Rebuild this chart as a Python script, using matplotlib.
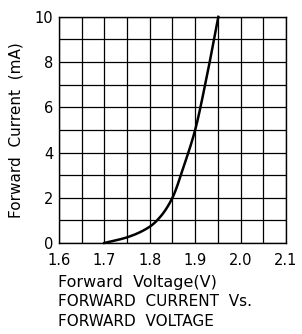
import matplotlib
matplotlib.use("Agg")
import matplotlib.pyplot as plt
import numpy as np

voltage = [1.70, 1.75, 1.80, 1.825, 1.85, 1.875, 1.90, 1.925, 1.951]
current = [0.0, 0.25, 0.72, 1.2, 2.0, 3.4, 5.0, 7.3, 10.0]
xtick_labels = ["1.6", "1.7", "1.8", "1.9", "2.0", "2.1"]
ytick_labels = ["0", "2", "4", "6", "8", "10"]


def pchip(x, y, xn):
    x = np.asarray(x, float); y = np.asarray(y, float)
    h = np.diff(x); d = np.diff(y) / h
    n = len(x)
    m = np.zeros(n)
    for k in range(1, n - 1):
        if d[k - 1] * d[k] <= 0:
            m[k] = 0
        else:
            w1 = 2 * h[k] + h[k - 1]; w2 = h[k] + 2 * h[k - 1]
            m[k] = (w1 + w2) / (w1 / d[k - 1] + w2 / d[k])
    m[0] = d[0]; m[-1] = d[-1]
    out = []
    for xv in xn:
        i = min(max(np.searchsorted(x, xv) - 1, 0), n - 2)
        t = (xv - x[i]) / h[i]
        h00 = 2*t**3 - 3*t**2 + 1; h10 = t**3 - 2*t**2 + t
        h01 = -2*t**3 + 3*t**2; h11 = t**3 - t**2
        out.append(h00*y[i] + h10*h[i]*m[i] + h01*y[i+1] + h11*h[i]*m[i+1])
    return np.array(out)


fig = plt.figure(figsize=(3.02, 3.34), dpi=100)
ax = fig.add_axes([0.195, 0.2725, 0.752, 0.677])
ax.set_xlim(1.6, 2.1)
ax.set_ylim(0, 10)
xt = np.linspace(1.6, 2.1, 11)
yt = np.linspace(0, 10, 11)
ax.set_xticks(xt)
ax.set_yticks(yt)
ax.set_xticklabels([xtick_labels[i // 2] if i % 2 == 0 else "" for i in range(11)])
ax.set_yticklabels([ytick_labels[i // 2] if i % 2 == 0 else "" for i in range(11)])
ax.grid(True, color="black", linewidth=0.9)
ax.tick_params(length=0, labelsize=10.5)
ax.tick_params(axis="x", pad=7)
ax.tick_params(axis="y", pad=4)
for s in ax.spines.values():
    s.set_linewidth(1.0)

xs = np.linspace(voltage[0], voltage[-1], 300)
ax.plot(xs, pchip(voltage, current, xs), color="black", linewidth=1.8, clip_on=False)

ax.set_ylabel("Forward  Current  (mA)", fontsize=11)
ax.yaxis.set_label_coords(-0.155, 0.5)
fig.text(0.192, 1 - 283/334, "Forward  Voltage(V)", fontsize=11.5, va="center", ha="left")
fig.text(0.192, 1 - 302/334, "FORWARD  CURRENT  Vs.", fontsize=11, va="center", ha="left")
fig.text(0.192, 1 - 321/334, "FORWARD  VOLTAGE", fontsize=11, va="center", ha="left")

fig.savefig("out.png", dpi=100)
